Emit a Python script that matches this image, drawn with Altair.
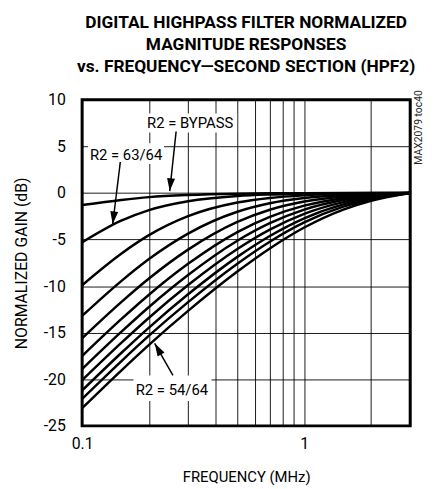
import altair as alt
import pandas as pd

# ---------------- data ----------------
freqs = [0.1, 0.15, 0.2, 0.3, 0.5, 0.7, 1.0, 1.5, 2.0, 3.0]
series = ["BYPASS", "63/64", "62/64", "61/64", "60/64", "59/64",
          "58/64", "57/64", "56/64", "55/64", "54/64"]
g_bypass = [-1.3, -0.75, -0.45, -0.22, -0.08, -0.04, -0.02, -0.01, 0.0, 0.0]
g_63 = [-5.3, -2.98, -1.84, -0.89, -0.33, -0.17, -0.08, -0.03, -0.01, 0.0]
g_62 = [-9.9, -6.52, -4.53, -2.49, -1.03, -0.54, -0.26, -0.10, -0.04, 0.0]
g_61 = [-13.2, -9.46, -7.09, -4.36, -2.02, -1.11, -0.55, -0.22, -0.09, 0.0]
g_60 = [-15.6, -11.72, -9.18, -6.08, -3.11, -1.80, -0.92, -0.37, -0.15, 0.0]
g_59 = [-17.5, -13.55, -10.92, -7.61, -4.20, -2.56, -1.36, -0.56, -0.24, 0.0]
g_58 = [-18.9, -14.92, -12.24, -8.81, -5.13, -3.25, -1.79, -0.76, -0.33, 0.0]
g_57 = [-20.1, -16.10, -13.39, -9.88, -6.01, -3.93, -2.24, -0.98, -0.43, 0.0]
g_56 = [-21.2, -17.18, -14.45, -10.88, -6.86, -4.62, -2.72, -1.23, -0.55, 0.0]
g_55 = [-22.1, -18.07, -15.32, -11.72, -7.59, -5.23, -3.16, -1.47, -0.67, 0.0]
g_54 = [-23.1, -19.06, -16.30, -12.66, -8.44, -5.96, -3.71, -1.78, -0.83, 0.0]
gains = [g_bypass, g_63, g_62, g_61, g_60, g_59, g_58, g_57, g_56, g_55, g_54]

x_grid = [0.1, 0.2, 0.3, 0.4, 0.5, 0.6, 0.7, 0.8, 0.9, 1.0, 2.0, 3.0]
y_grid = [-25, -20, -15, -10, -5, 0, 5, 10]

title_lines = ["DIGITAL HIGHPASS FILTER NORMALIZED",
               "MAGNITUDE RESPONSES",
               "vs. FREQUENCY\u2014SECOND SECTION (HPF2)"]

# annotations (data coordinates)
ann_text = ["R2 = BYPASS", "R2 = 63/64", "R2 = 54/64"]
ann_tx = [0.3066, 0.1577, 0.2537]
ann_ty = [7.5, 4.11, -21.12]
box_x1 = [0.1905, 0.1063, 0.1703]
box_x2 = [0.4987, 0.2337, 0.3823]
box_y1 = [8.52, 5.33, -19.59]
box_y2 = [6.5, 3.11, -22.34]
arr_x1 = [0.265, 0.1486, 0.2564]
arr_y1 = [6.6, 3.32, -19.59]
arr_x2 = [0.248, 0.1373, 0.2121]
arr_y2 = [0.2, -3.36, -16.14]
arr_angle = [186, 187, 330]

FONT = "Roboto"

rows = []
for s, g in zip(series, gains):
    for f, v in zip(freqs, g):
        rows.append({"series": s, "f": f, "g": v})
df = pd.DataFrame(rows)

ann = pd.DataFrame({
    "text": ann_text, "tx": ann_tx, "ty": ann_ty,
    "bx1": box_x1, "bx2": box_x2, "by1": box_y1, "by2": box_y2,
    "ax1": arr_x1, "ay1": arr_y1, "ax2": arr_x2, "ay2": arr_y2,
    "angle": arr_angle,
})

W, H = 332, 330
xscale = alt.Scale(type="log", domain=[0.1, 3.0], nice=False)
yscale = alt.Scale(domain=[-25, 10], nice=False)

xaxis = alt.Axis(values=x_grid, title="FREQUENCY (MHz)",
                 labelExpr="datum.value == 0.1 ? '0.1' : (datum.value == 1 ? '1' : '')",
                 labelPadding=10, titlePadding=18, labelFlush=False,
                 titleFontSize=15)
yaxis = alt.Axis(values=y_grid, title="NORMALIZED GAIN (dB)",
                 labelExpr="'' + datum.value", labelPadding=17, titlePadding=14,
                 titleFontSize=16)

lines = alt.Chart(df).mark_line(color="black", strokeWidth=2.5,
                                interpolate="monotone", clip=True).encode(
    x=alt.X("f:Q", scale=xscale, axis=xaxis),
    y=alt.Y("g:Q", scale=yscale, axis=yaxis),
    detail="series:N",
)

boxes = alt.Chart(ann).mark_rect(color="white", opacity=1).encode(
    x=alt.X("bx1:Q", scale=xscale), x2="bx2:Q",
    y=alt.Y("by1:Q", scale=yscale), y2="by2:Q",
)

arrows = alt.Chart(ann).mark_rule(color="black", strokeWidth=1.5).encode(
    x=alt.X("ax1:Q", scale=xscale), x2="ax2:Q",
    y=alt.Y("ay1:Q", scale=yscale), y2="ay2:Q",
)

heads = alt.Chart(ann).mark_point(
    shape="M0,0L0.31,1L-0.31,1Z", filled=True, color="black", opacity=1,
    size=676, strokeWidth=0,
).encode(
    x=alt.X("ax2:Q", scale=xscale),
    y=alt.Y("ay2:Q", scale=yscale),
    angle=alt.Angle("angle:Q", scale=None),
)

labels = alt.Chart(ann).mark_text(font=FONT, fontSize=15, color="black",
                                  align="center", baseline="middle").encode(
    x=alt.X("tx:Q", scale=xscale),
    y=alt.Y("ty:Q", scale=yscale),
    text="text:N",
)

mark_id = alt.Chart(pd.DataFrame({"t": ["MAX2079 toc40"]})).mark_text(
    font=FONT, fontSize=10.5, color="#222", angle=270,
    align="center", baseline="middle",
).encode(x=alt.value(W + 9), y=alt.value(28), text="t:N")

chart = alt.layer(boxes, lines, arrows, heads, labels, mark_id).properties(
    width=W, height=H,
    title=alt.TitleParams(text=title_lines, font=FONT, fontWeight="bold",
                          fontSize=17.5, lineHeight=22, anchor="middle",
                          offset=15, color="black"),
    autosize=alt.AutoSizeParams(type="none"),
    padding={"left": 75, "top": 90, "right": 16, "bottom": 61},
).configure_view(
    stroke="black", strokeWidth=3,
).configure_axis(
    grid=True, gridColor="black", gridWidth=1, gridOpacity=0.9,
    domain=False, ticks=False, tickSize=0,
    labelFont=FONT, labelFontSize=16, labelColor="black",
    titleFont=FONT, titleFontWeight="normal", titleColor="black",
)

chart.save("out.html", embed_options={"renderer": "svg", "actions": False})
